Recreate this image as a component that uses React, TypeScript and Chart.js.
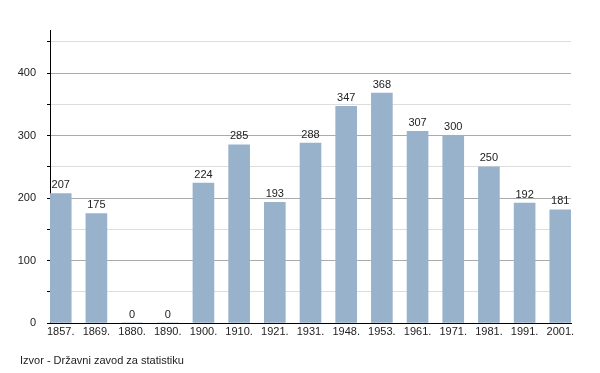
import React, { useEffect, useRef } from "react";
import { Chart, registerables } from "chart.js";

Chart.register(...registerables);

const categories = ["1857.", "1869.", "1880.", "1890.", "1900.", "1910.", "1921.", "1931.", "1948.", "1953.", "1961.", "1971.", "1981.", "1991.", "2001."];
const population = [207, 175, 0, 0, 224, 285, 193, 288, 347, 368, 307, 300, 250, 192, 181];
const yTicks = [0, 50, 100, 150, 200, 250, 300, 350, 400, 450];
const sourceText = "Izvor - Državni zavod za statistiku";

const FONT = "'Liberation Sans', Arial, sans-serif";

export default function App() {
  const ref = useRef<HTMLCanvasElement | null>(null);

  useEffect(() => {
    if (!ref.current) return;
    const valueLabels = {
      id: "valueLabels",
      afterDatasetsDraw(chart: any) {
        const ctx = chart.ctx;
        const meta = chart.getDatasetMeta(0);
        ctx.save();
        ctx.font = `11px ${FONT}`;
        ctx.fillStyle = "#222";
        ctx.textAlign = "center";
        ctx.textBaseline = "bottom";
        meta.data.forEach((el: any, i: number) => {
          ctx.fillText(String(population[i]), el.x, el.y - 3);
        });
        ctx.restore();
      },
    };
    const sourcePlugin = {
      id: "sourceText",
      afterDraw(chart: any) {
        const ctx = chart.ctx;
        ctx.save();
        ctx.font = `11px ${FONT}`;
        ctx.fillStyle = "#222";
        ctx.textAlign = "left";
        ctx.textBaseline = "middle";
        ctx.fillText(sourceText, 20, 361);
        ctx.restore();
      },
    };
    const chart = new Chart(ref.current, {
      type: "bar",
      data: {
        datasets: [
          {
            data: population.map((v, i) => ({ x: i, y: v })),
            backgroundColor: "#98b2cb",
            barThickness: 21,
          },
        ],
      },
      options: {
        animation: false,
        responsive: false,
        layout: { padding: { top: 30, right: 29, left: 0, bottom: 0 } },
        plugins: { legend: { display: false }, tooltip: { enabled: false } },
        scales: {
          x: {
            type: "linear",
            offset: false,
            min: -0.3,
            max: 14.3,
            afterBuildTicks: (s: any) => {
              s.ticks = categories.map((_, i) => ({ value: i }));
            },
            afterFit: (s: any) => {
              s.height = 50;
            },
            grid: { display: false, drawTicks: false, offset: false },
            border: { display: true, color: "#000", width: 1 },
            ticks: {
              stepSize: 1,
              autoSkip: false,
              maxRotation: 0,
              padding: 2,
              color: "#222",
              font: { family: FONT, size: 11 },
              callback: (v: any) => categories[Math.round(v)] ?? "",
            },
          },
          y: {
            min: 0,
            max: 469,
            afterBuildTicks: (s: any) => {
              s.ticks = yTicks.map((v) => ({ value: v }));
            },
            afterFit: (s: any) => {
              s.width = 50;
            },
            border: { display: true, color: "#000", width: 1 },
            grid: {
              color: (c: any) => (c.tick && c.tick.value % 100 === 0 ? "#aaaaaa" : "#dddddd"),
              tickColor: "#000",
              tickLength: 3,
              lineWidth: 1,
            },
            ticks: {
              stepSize: 50,
              padding: 11,
              color: "#222",
              font: { family: FONT, size: 11 },
              callback: (v: any) => (v % 100 === 0 ? String(v) : ""),
            },
          },
        },
      },
      plugins: [valueLabels, sourcePlugin],
    } as any);
    return () => chart.destroy();
  }, []);

  return (
    <div style={{ position: "fixed", left: 0, top: 0, width: 600, height: 373, background: "#fff" }}>
      <canvas ref={ref} width={600} height={373} style={{ width: 600, height: 373 }} />
    </div>
  );
}
